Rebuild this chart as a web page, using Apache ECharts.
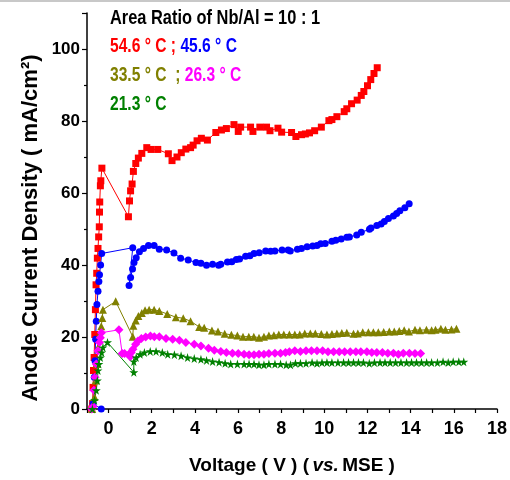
<!DOCTYPE html>
<html>
<head>
<meta charset="utf-8">
<script src="https://cdn.jsdelivr.net/npm/echarts@6/dist/echarts.min.js"></script>
<style>
html, body { margin: 0; padding: 0; background: #fff; }
#main { width: 510px; height: 480px; }
</style>
</head>
<body>
<div id="main"></div>
<script>
// [voltage (V vs. MSE), current density (mA/cm2)]
var t546 = [[-0.78,0],[-0.74,1.5],[-0.72,6],[-0.7,10.7],[-0.67,14.3],[-0.64,20.7],[-0.61,27.6],[-0.58,34.5],[-0.55,37.7],[-0.52,41.9],[-0.49,44.6],[-0.46,47.8],[-0.43,50.6],[-0.42,54.7],[-0.41,57.5],[-0.38,62],[-0.36,63.4],[-0.31,66.9],[0.92,53.4],[0.97,57.8],[1.02,60.6],[1.09,62.5],[1.15,66],[1.26,68.2],[1.38,69.7],[1.54,71],[1.77,72.6],[1.97,72.1],[2.28,72.1],[2.77,70.9],[2.94,69],[3.17,70],[3.37,71.2],[3.58,72.2],[3.8,72.6],[3.92,73.3],[4.1,74.5],[4.3,75.2],[4.58,74.7],[4.97,76.8],[5.23,77.5],[5.46,77.9],[5.81,79],[6.01,77.1],[6.12,78.3],[6.58,78.3],[6.69,77.1],[7.01,78.3],[7.32,78.3],[7.48,77.3],[7.85,78],[8.02,76.9],[8.48,76.8],[8.68,75.7],[8.94,76.2],[9.12,76.4],[9.31,76.7],[9.55,77.3],[9.86,78.3],[10.21,80.1],[10.35,80.4],[10.58,81.2],[10.92,82.6],[11.04,83.4],[11.26,84.8],[11.52,85.8],[11.71,87.1],[11.83,88.2],[12.0,89.8],[12.15,91.5],[12.3,93.2],[12.45,94.8]];
var t456 = [[-0.34,0],[-0.72,1.5],[-0.66,8.8],[-0.63,13.4],[-0.6,19.4],[-0.57,24.4],[-0.54,29],[-0.49,32.7],[-0.45,35.4],[-0.42,37.3],[-0.37,40],[-0.32,43.2],[1.12,44.8],[0.95,34.3],[1.02,36.5],[1.11,38.9],[1.18,40.7],[1.28,42],[1.43,43.7],[1.62,44.6],[1.85,45.4],[2.11,45.4],[2.35,44.4],[2.69,44.2],[3.03,43.3],[3.34,41.9],[3.69,41.4],[4.05,40.7],[4.28,40.5],[4.54,39.9],[4.82,40.2],[5.1,39.9],[5.2,40.2],[5.51,40.8],[5.71,40.9],[5.92,41.5],[6.07,41.7],[6.35,42.4],[6.55,42.6],[6.74,43.2],[6.98,43.4],[7.28,43.9],[7.51,43.8],[7.71,43.9],[8.04,44.2],[8.32,44.2],[8.42,43.9],[8.75,44.4],[8.94,44.6],[9.2,45.1],[9.46,45.3],[9.66,45.4],[9.83,45.9],[10.04,46],[10.35,46.6],[10.53,46.9],[10.78,47.2],[11.04,47.7],[11.16,47.8],[11.5,48.3],[11.71,49.1],[12.09,49.9],[12.16,50.3],[12.43,51],[12.63,51.4],[12.78,52.1],[12.97,52.9],[13.2,53.6],[13.35,54.3],[13.5,55.1],[13.73,55.9],[13.93,57]];
var t335 = [[-0.76,0],[-0.65,3.3],[-0.6,7.9],[-0.54,12.5],[-0.49,17.1],[-0.42,20.7],[-0.34,23],[-0.29,25.3],[-0.26,27.6],[0.33,29.9],[1.12,20.1],[1.15,23.1],[1.26,24.6],[1.38,25.8],[1.54,26.7],[1.69,27.4],[1.88,27.6],[2.11,27.6],[2.35,27.2],[2.72,26.4],[3.12,25.5],[3.46,25.2],[3.8,24.4],[4.2,22.8],[4.43,22.6],[4.79,21.8],[5.07,21.5],[5.38,20.9],[5.69,20.6],[5.97,20.4],[6.23,20.1],[6.5,20.1],[6.73,20.1],[6.97,19.8],[7.2,20.1],[7.43,20.4],[7.66,20.5],[7.89,20.7],[8.12,20.7],[8.38,20.7],[8.63,20.7],[8.86,20.7],[9.09,21],[9.35,21],[9.58,21],[9.86,20.8],[10.12,20.7],[10.35,20.8],[10.58,21],[10.81,21.1],[11.04,21.2],[11.35,20.9],[11.55,21],[11.78,21.3],[12.04,21.3],[12.27,21.3],[12.5,21.3],[12.75,21.4],[13.01,21.5],[13.24,21.5],[13.47,21.7],[13.7,21.9],[13.92,21.5],[14.2,22],[14.43,21.9],[14.73,22],[14.97,21.9],[15.15,22],[15.4,22.3],[15.61,22],[15.89,22.1],[16.12,22.3]];
var t263 = [[-0.78,0],[-0.72,0.7],[-0.68,5.2],[-0.63,8.8],[-0.57,12.5],[-0.49,16.2],[-0.42,18.5],[-0.38,19.8],[-0.33,21.2],[0.48,22],[0.63,15.4],[0.74,15.4],[0.94,15.2],[1.0,14.5],[1.05,15.7],[1.13,16.6],[1.25,18],[1.36,18.9],[1.52,19.6],[1.72,20],[1.94,20.3],[2.12,20.1],[2.35,20.1],[2.66,19.6],[2.97,19.4],[3.28,19.1],[3.58,18.5],[3.97,18],[4.28,17.5],[4.63,16.9],[4.9,16.3],[5.2,16],[5.46,15.7],[5.74,15.5],[6.01,15.4],[6.28,15.2],[6.51,15.1],[6.74,15.1],[6.97,15.2],[7.2,15.2],[7.43,15.4],[7.71,15.5],[7.97,15.5],[8.2,15.7],[8.38,15.9],[8.63,16.2],[8.89,16],[9.15,16.2],[9.4,16.2],[9.66,16.2],[9.92,16.2],[10.17,15.9],[10.43,15.9],[10.69,15.9],[10.94,15.9],[11.2,15.9],[11.46,15.9],[11.69,15.9],[11.97,15.9],[12.2,15.7],[12.43,15.7],[12.69,15.7],[12.94,15.5],[13.2,15.5],[13.43,15.2],[13.66,15.5],[13.94,15.5],[14.2,15.4],[14.46,15.4]];
var t213 = [[-0.75,0],[-0.65,2.4],[-0.57,5.2],[-0.52,7.9],[-0.49,10.7],[-0.45,12.5],[-0.38,14.3],[-0.32,15.7],[-0.26,17.1],[-0.05,18.5],[1.17,10.2],[1.17,13.2],[1.28,14.3],[1.46,15.2],[1.66,15.7],[1.93,16],[2.2,16],[2.49,15.7],[2.74,15.2],[3.05,15.1],[3.36,14.8],[3.66,14.3],[3.97,14],[4.28,13.8],[4.54,13.5],[4.82,13.2],[5.12,13],[5.4,12.7],[5.66,12.5],[5.97,12.5],[6.28,12.5],[6.51,12.5],[6.74,12.5],[6.97,12.3],[7.2,12.3],[7.43,12.5],[7.71,12.5],[7.97,12.5],[8.23,12.3],[8.43,12.3],[8.66,12.7],[8.89,12.7],[9.15,12.7],[9.43,12.9],[9.66,12.7],[9.89,12.9],[10.12,12.9],[10.35,12.9],[10.63,12.9],[10.89,12.9],[11.12,12.9],[11.35,12.9],[11.58,12.9],[11.81,12.9],[12.08,12.7],[12.32,12.9],[12.58,12.9],[12.81,12.9],[13.05,12.9],[13.3,12.9],[13.55,12.9],[13.81,12.9],[14.04,12.9],[14.27,12.9],[14.5,12.9],[14.74,12.9],[14.97,12.9],[15.24,12.9],[15.5,13.1],[15.74,12.9],[15.97,13.1],[16.23,13.1],[16.46,13.1]];

var STAR = 'path://M50,0 L61,35 L98,35 L68,57 L79,91 L50,70 L21,91 L32,57 L2,35 L39,35 Z';
var FONT = '"Liberation Sans", Arial, sans-serif';

function mkSeries(name, data, color, symbol, size) {
    return {
        name: name,
        type: 'line',
        data: data,
        symbol: symbol,
        symbolSize: size,
        showAllSymbol: true,
        color: color,
        lineStyle: { width: 1, color: color },
        itemStyle: { color: color },
        animation: false
    };
}

// condensed legend lines: graphic text squeezed horizontally like the original
function legendText(y, sx, text, fill, rich) {
    return {
        type: 'text', x: 110, y: y, scaleX: sx, scaleY: 1,
        style: { text: text, rich: rich, fontFamily: FONT, fontWeight: 'bold', fontSize: 20, fill: fill }
    };
}

function rs(color) {
    return { fontFamily: FONT, fontWeight: 'bold', fontSize: 20, fill: color };
}

var chart = echarts.init(document.getElementById('main'));
chart.setOption({
    backgroundColor: '#fff',
    grid: { left: 87, right: 11, top: 13, bottom: 68, containLabel: false },
    xAxis: {
        type: 'value',
        min: -1, max: 18, interval: 1,
        name: '{a|Voltage ( V ) (} {i|vs.} {a|MSE )}',
        nameLocation: 'middle',
        nameGap: 47,
        nameTextStyle: {
            rich: {
                a: { fontFamily: FONT, fontWeight: 'bold', fontSize: 19, color: '#000' },
                i: { fontFamily: FONT, fontWeight: 'bold', fontStyle: 'italic', fontSize: 19, color: '#000' }
            }
        },
        axisLine: { show: true, onZero: false, lineStyle: { color: '#000', width: 1.5 } },
        axisTick: { show: true, inside: false, length: 4, lineStyle: { color: '#000', width: 1.2 } },
        axisLabel: {
            margin: 11,
            fontFamily: FONT, fontWeight: 'bold', fontSize: 18, color: '#000',
            formatter: function (v) { return (v % 2 === 0) ? String(v) : ''; }
        },
        splitLine: { show: false }
    },
    yAxis: {
        type: 'value',
        min: 0, max: 110, interval: 20,
        axisLine: { show: true, onZero: false, lineStyle: { color: '#000', width: 1.5 } },
        axisTick: { show: true, inside: false, length: 5, lineStyle: { color: '#000', width: 1.2 } },
        minorTick: { show: true, splitNumber: 2, length: 3, lineStyle: { color: '#000', width: 1.2 } },
        axisLabel: {
            margin: 7, showMaxLabel: false,
            fontFamily: FONT, fontWeight: 'bold', fontSize: 17, color: '#000'
        },
        splitLine: { show: false }
    },
    graphic: [
        { type: 'rect', shape: { x: 0, y: 0, width: 510, height: 2 }, style: { fill: '#c8c8c8' } },
        {
            type: 'text', x: 31, y: 228, rotation: Math.PI / 2,
            style: {
                text: 'Anode Current Density ( mA/cm²)',
                fontFamily: FONT, fontWeight: 'bold', fontSize: 22, fill: '#000',
                align: 'center', verticalAlign: 'middle'
            }
        },
        legendText(8, 0.82, 'Area Ratio of Nb/Al = 10 : 1', '#000'),
        legendText(36, 0.78, '{r|54.6 ° C ;} {b|45.6 ° C}', '#000', { r: rs('#ff0000'), b: rs('#0000ff') }),
        legendText(65, 0.78, '{o|33.5 ° C  ;} {m|26.3 ° C}', '#000', { o: rs('#808000'), m: rs('#ff00ff') }),
        legendText(94, 0.78, '21.3 ° C', '#008000')
    ],
    series: [
        mkSeries('54.6 °C', t546, '#ff0000', 'rect', 7),
        mkSeries('45.6 °C', t456, '#0000ff', 'circle', 7),
        mkSeries('33.5 °C', t335, '#808000', 'triangle', 8),
        mkSeries('26.3 °C', t263, '#ff00ff', 'diamond', 9),
        mkSeries('21.3 °C', t213, '#008000', STAR, 9)
    ]
});
</script>
</body>
</html>
